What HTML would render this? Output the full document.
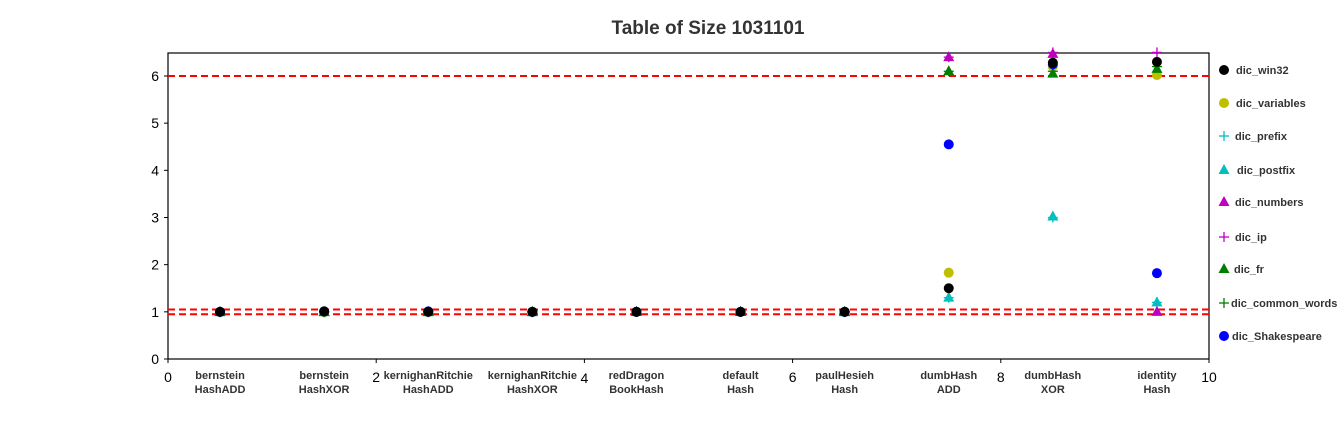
<!DOCTYPE html>
<html><head><meta charset="utf-8"><style>
body{margin:0;background:#fff;}
svg text{font-family:"Liberation Sans",sans-serif;}
</style></head><body>
<svg id="c" width="1343" height="441" xmlns="http://www.w3.org/2000/svg"></svg>
<script>
const categories=["bernstein\nHashADD","bernstein\nHashXOR","kernighanRitchie\nHashADD","kernighanRitchie\nHashXOR","redDragon\nBookHash","default\nHash","paulHesieh\nHash","dumbHash\nADD","dumbHash\nXOR","identity\nHash"];
const seriesNames=["dic_win32","dic_variables","dic_prefix","dic_postfix","dic_numbers","dic_ip","dic_fr","dic_common_words","dic_Shakespeare"];
const seriesColors=["#000000","#bfbf00","#00bfbf","#00bfbf","#bf00bf","#bf00bf","#007f00","#007f00","#0000ff"];
const seriesMarkers=["o","o","+","^","^","+","^","+","o"];
const win32=[1,1.01,1,1,1,1,1,1.5,6.28,6.3];
const variables=[1,0.99,1,1,1,1,1,1.83,6.2,6.02];
const prefix=[0.99,0.99,0.99,0.99,1,1,0.99,1.3,3.0,1.2];
const postfix=[0.99,0.99,0.99,0.99,1,1,0.99,1.3,3.02,1.2];
const numbers=[1,1,1,1,1,1,1,6.4,6.47,1.0];
const ip=[1,1,1,1,1,1,1,6.4,6.5,6.5];
const fr=[1,1,1,1,1,1,1,6.1,6.05,6.15];
const commonWords=[1,1,1,1,1,1,1,6.1,6.1,6.2];
const shakespeare=[1,1.01,1.01,1,1,1,1,4.55,6.25,1.82];
const seriesValues=[win32,variables,prefix,postfix,numbers,ip,fr,commonWords,shakespeare];
const xTicks=[0,2,4,6,8,10];
const yTicks=[0,1,2,3,4,5,6];
const refLines=[6,1.05,0.95];

const NS="http://www.w3.org/2000/svg";
const svg=document.getElementById('c');
const L=168,R=1209,T=53,B=359;
const X=v=>L+(v/10)*(R-L);
const Y=v=>B-v*(B-76)/6;
function mk(tag,at,parent){const e=document.createElementNS(NS,tag);for(const k in at)e.setAttribute(k,at[k]);(parent||svg).appendChild(e);return e;}

const title=mk('text',{x:708,y:34,'text-anchor':'middle','font-size':19,'font-weight':'bold',fill:'#333'});


title.textContent="Table of Size 1031101";

const frame=mk('rect',{x:L,y:T,width:R-L,height:B-T,fill:'none',stroke:'#000','stroke-width':1.2});



xTicks.forEach(t=>{
  const g=mk('g',{});
  
  
  mk('line',{x1:X(t),x2:X(t),y1:B,y2:B+4,stroke:'#000'},g);
  const tx=mk('text',{x:X(t),y:B+(t%4===0&&t!==0&&t!==8?24:23),'text-anchor':'middle','font-size':14,fill:'#000'},g);
  tx.textContent=t;
});
yTicks.forEach(t=>{
  const g=mk('g',{});
  
  
  mk('line',{x1:L-4,x2:L,y1:Y(t),y2:Y(t),stroke:'#000'},g);
  const tx=mk('text',{x:L-9,y:Y(t)+5,'text-anchor':'end','font-size':14,fill:'#000'},g);
  tx.textContent=t;
});
categories.forEach((c,i)=>{
  const parts=c.split("\n");
  const tx=mk('text',{x:X(i+0.5)+ (i===0?0:0),y:B+20,'text-anchor':'middle','font-size':11,'font-weight':'bold',fill:'#333'});
  
  
  parts.forEach((p,k)=>{const s=mk('tspan',{x:X(i+0.5),dy:k?14:0},tx);s.textContent=p;});
});
refLines.forEach(v=>{
  const l=mk('line',{x1:L,x2:R,y1:Y(v),y2:Y(v),stroke:'#ff0000','stroke-width':2,'stroke-dasharray':'7,4'});
  
  
});
function marker(type,x,y,color,parent){
  if(type==='o') return mk('circle',{cx:x,cy:y,r:5,fill:color},parent);
  if(type==='^') return mk('polygon',{points:`${x},${y-6} ${x-5.5},${y+4} ${x+5.5},${y+4}`,fill:color},parent);
  const g=mk('g',{},parent);
  mk('line',{x1:x-5,x2:x+5,y1:y,y2:y,stroke:color,'stroke-width':1.3},g);
  mk('line',{x1:x,x2:x,y1:y-5,y2:y+5,stroke:color,'stroke-width':1.3},g);
  return g;
}
const order=[1,2,3,4,5,6,7,8,0];
order.forEach(s=>{
  const g=mk('g',{});
  
  
  seriesValues[s].forEach((v,i)=>{
    const m=marker(seriesMarkers[s],X(i+0.5),Y(v),seriesColors[s],g);
    
    
  });
});
const legY=[70,103,136,170,202,237,269,303,336];
const legX=[1236,1236,1235,1237,1235,1235,1234,1231,1232];
seriesNames.forEach((n,i)=>{
  const g=mk('g',{});
  
  
  marker(seriesMarkers[i],1224,legY[i],seriesColors[i],g);
  const t=mk('text',{x:legX[i],y:legY[i]+4,'font-size':11,'font-weight':'bold',fill:'#333'},g);
  t.textContent=n;
});
</script>
</body></html>
